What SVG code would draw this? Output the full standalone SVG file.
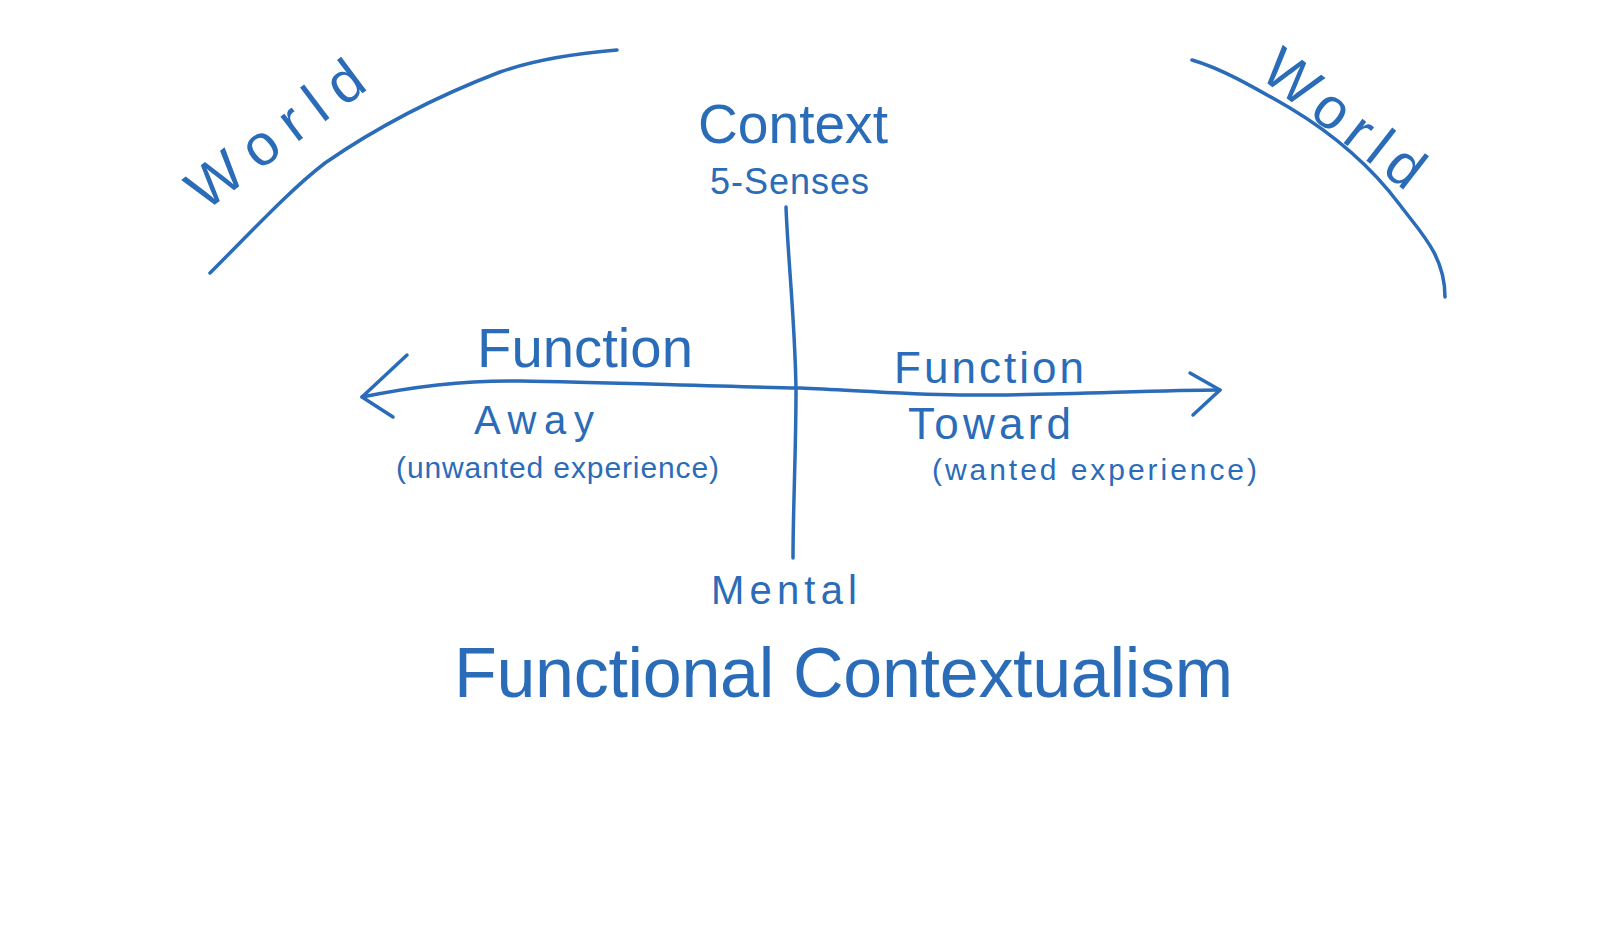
<svg xmlns="http://www.w3.org/2000/svg" width="1600" height="927" viewBox="0 0 1600 927">
<style>
.ln{fill:none;stroke:#2b6cb8;stroke-width:3.5;stroke-linecap:round;stroke-linejoin:round}
.t{fill:#2b6cb8;font-family:"Liberation Sans","DejaVu Sans",sans-serif}
</style>
<rect width="1600" height="927" fill="#ffffff"/>
<g id="connectors">
<path class="ln" d="M210,273 C255,228 290,190 325,163 C380,125 440,95 500,72 C540,58 580,53 617,50"/>
<path class="ln" d="M1192,60 C1220,68 1250,85 1290,108 C1330,132 1370,165 1400,205 C1420,232 1445,255 1445,297"/>
<path class="ln" d="M786,207 C788,260 795,320 796,390 C796,450 793,510 793,558"/>
<path class="ln" d="M362,397 C420,385 470,380 520,381 C600,382 700,386 800,388 C850,390 900,394 960,395 C1050,396 1150,390 1220,390"/>
<path class="ln" d="M407,355 L362,397 L393,417"/>
<path class="ln" d="M1190,373 L1220,390 L1193,415"/>
</g>
<g id="world-left"><text class="t" font-size="58" transform="translate(205,212) rotate(-37)" textLength="206" lengthAdjust="spacing">World</text></g>
<g id="world-right"><text class="t" font-size="58" transform="translate(1258,76) rotate(38)" textLength="188" lengthAdjust="spacing">World</text></g>
<g id="context">
<text class="t" font-size="56" x="698" y="143" textLength="190" lengthAdjust="spacingAndGlyphs">Context</text>
<text class="t" font-size="36" x="710" y="194" textLength="159" lengthAdjust="spacing">5-Senses</text>
</g>
<g id="function-away">
<text class="t" font-size="55" x="477" y="367" textLength="216" lengthAdjust="spacingAndGlyphs">Function</text>
<text class="t" font-size="40" x="474" y="434" textLength="120" lengthAdjust="spacing">Away</text>
<text class="t" font-size="30" x="396" y="478" textLength="323" lengthAdjust="spacing">(unwanted experience)</text>
</g>
<g id="function-toward">
<text class="t" font-size="44" x="894" y="383" textLength="190" lengthAdjust="spacing">Function</text>
<text class="t" font-size="44" x="908" y="439" textLength="163" lengthAdjust="spacing">Toward</text>
<text class="t" font-size="30" x="932" y="480" textLength="325" lengthAdjust="spacing">(wanted experience)</text>
</g>
<g id="mental"><text class="t" font-size="40" x="711" y="604" textLength="146" lengthAdjust="spacing">Mental</text></g>
<g id="title"><text class="t" font-size="70" x="454" y="697" textLength="779" lengthAdjust="spacing">Functional Contextualism</text></g>
</svg>
